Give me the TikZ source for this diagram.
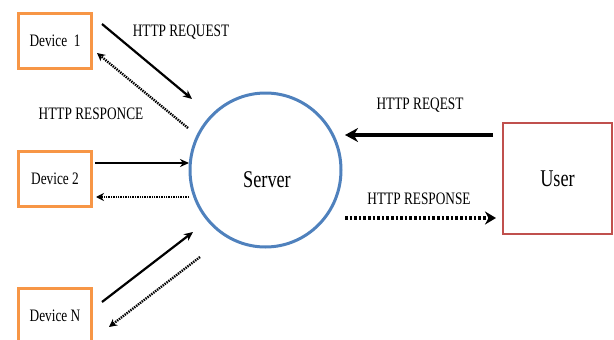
\documentclass[tikz,border=0pt]{standalone}
\usepackage{fontspec}
\setmainfont[FakeStretch=0.76]{Liberation Serif}
\usetikzlibrary{arrows.meta,shapes.geometric}
\definecolor{devorange}{HTML}{F79646}
\definecolor{srvblue}{HTML}{4F81BD}
\definecolor{usrred}{HTML}{C0504D}
\begin{document}
\begin{tikzpicture}[x=1pt,y=-1pt,
  devbox/.style={draw=devorange,line width=3pt,minimum width=73pt,minimum height=55pt,inner sep=0pt,font=\fontsize{17.5}{19}\selectfont},
  lbl/.style={inner sep=0pt,font=\fontsize{17.5}{19}\selectfont},
  reqarrow/.style={draw=black,line width=2.2pt,-{Stealth[length=9pt,width=8pt]}},
  resarrow/.style={draw=black,line width=2.4pt,dash pattern=on 1.4pt off 1pt,-{Stealth[length=8pt,width=8pt]}},
  bigreq/.style={draw=black,line width=4.5pt,-{Stealth[length=13pt,width=14pt]}},
  bigres/.style={draw=black,line width=4.5pt,dash pattern=on 2.6pt off 2pt,-{Stealth[length=11pt,width=13pt]}}]
\useasboundingbox (0,0) rectangle (614,340);
\clip (0,0) rectangle (614,340);
\node[devbox] (d1) at (55,41) {Device\ \ 1};
\node[devbox] (d2) at (55,178.5) {Device 2};
\node[devbox] (dn) at (55,316) {Device N};
\node[draw=srvblue,line width=3pt,ellipse,minimum width=151pt,minimum height=154pt,inner sep=0pt] (srv) at (265.5,170) {};
\node[inner sep=0pt,font=\fontsize{24}{26}\selectfont] (srvt) at (267,180) {Server};
\node[draw=usrred,line width=2pt,minimum width=109pt,minimum height=111pt,inner sep=0pt,font=\fontsize{24}{26}\selectfont] (usr) at (557.5,178.5) {User};
% labels
\node[lbl] (l1) at (181,32) {HTTP REQUEST};
\node[lbl] (l2) at (91,114) {HTTP RESPONCE};
\node[lbl] (l3) at (420,105) {HTTP REQEST};
\node[lbl] (l4) at (419,199) {HTTP RESPONSE};
% coordinates
\coordinate (a1s) at (102,24); \coordinate (a1e) at (192,99);
\coordinate (r1s) at (188,128); \coordinate (r1e) at (97,53);
\coordinate (a2s) at (95,163); \coordinate (a2e) at (189,163);
\coordinate (r2s) at (189,197); \coordinate (r2e) at (96,197);
\coordinate (ans) at (102,302); \coordinate (ane) at (193,232);
\coordinate (rns) at (200,257); \coordinate (rne) at (109,327);
\coordinate (ur) at (493,135); \coordinate (sr) at (345,135);
\coordinate (ss) at (345,218); \coordinate (us) at (496,218);
\draw[reqarrow] (a1s) -- (a1e);
\draw[resarrow] (r1s) -- (r1e);
\draw[reqarrow] (a2s) -- (a2e);
\draw[resarrow] (r2s) -- (r2e);
\draw[reqarrow] (ans) -- (ane);
\draw[resarrow] (rns) -- (rne);
\draw[bigreq] (ur) -- (sr);
\draw[bigres] (ss) -- (us);
\end{tikzpicture}
\end{document}
